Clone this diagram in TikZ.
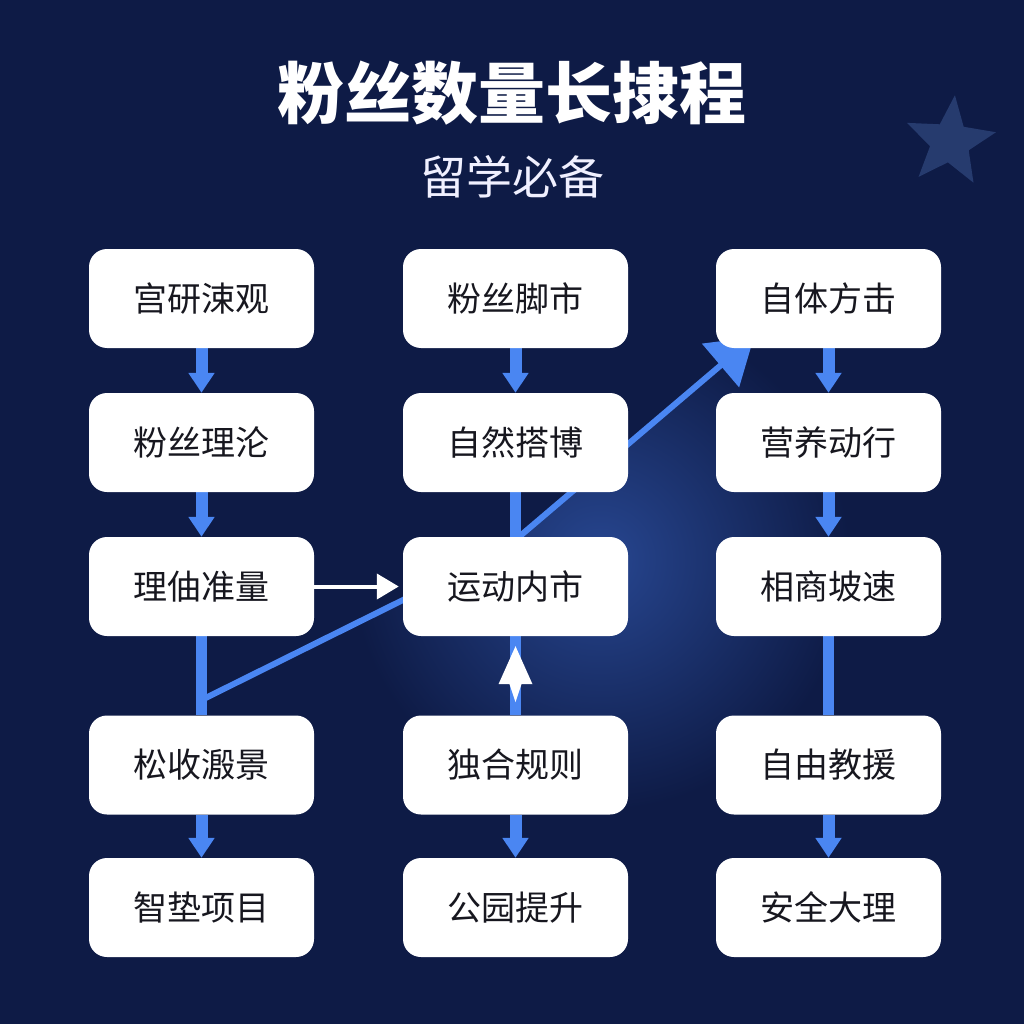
\documentclass[tikz,border=0pt]{standalone}
\usepackage{fontspec}
\newfontfamily\cjk{Noto Sans CJK SC}
\usetikzlibrary{arrows.meta,shapes.geometric,calc}
\definecolor{bgc}{HTML}{0E1B46}
\definecolor{glowc}{HTML}{274690}
\definecolor{linkblue}{HTML}{4A86F2}
\definecolor{boxtext}{HTML}{17171F}
\definecolor{starc}{HTML}{263B6E}
\pgfdeclarelayer{bg}
\pgfdeclarelayer{lines}
\pgfsetlayers{bg,lines,main}
\tikzset{
  stepbox/.style={rounded corners=18pt, fill=white, minimum width=225pt, minimum height=99pt,
    inner sep=0pt, text=boxtext, font=\cjk\fontsize{34pt}{40pt}\selectfont},
  flow/.style={draw=linkblue, line width=12pt, -{Triangle[length=20pt,width=25pt]}},
  plainlink/.style={draw=linkblue, line width=11pt},
  whitearrow/.style={draw=white, line width=4pt, -{Triangle[length=22pt,width=25pt]}},
  diag/.style={draw=linkblue, line width=6pt, line join=round, -{Triangle[length=44pt,width=56pt]}}
}
\begin{document}
\begin{tikzpicture}[x=1pt,y=-1pt]
\useasboundingbox (0,0) rectangle (1024,1024);
\begin{pgfonlayer}{bg}
\fill[bgc] (0,0) rectangle (1024,1024);
\begin{scope}
\clip (201.5,700) -- (403,600) -- (520,536) -- (760,330) -- (900,330) -- (900,820) -- (201.5,820) -- cycle;
\shade[inner color=glowc, outer color=bgc] (600,560) circle[radius=250pt];
\end{scope}
\node[star, star points=5, star point ratio=2.3, minimum size=94pt, inner sep=0pt, fill=starc, rotate=-6] (star) at (950,142) {};
\end{pgfonlayer}

\node[text=white, font=\cjk\bfseries\fontsize{67pt}{70pt}\selectfont] (title) at (512,93) {粉丝数量长捸程};
\node[text=white!94!blue, font=\cjk\fontsize{46pt}{50pt}\selectfont] (sub) at (512,177) {留学必备};

\node[stepbox] (a1) at (201.5,298.5) {宫研涑观};
\node[stepbox] (a2) at (201.5,442.5) {粉丝理沦};
\node[stepbox] (a3) at (201.5,586.5) {理伷准量};
\node[stepbox] (a4) at (201.5,765) {松收溵景};
\node[stepbox] (a5) at (201.5,907.5) {智垫项目};

\node[stepbox] (b1) at (515.5,298.5) {粉丝脚市};
\node[stepbox] (b2) at (515.5,442.5) {自然搭博};
\node[stepbox] (b3) at (515.5,586.5) {运动内市};
\node[stepbox] (b4) at (515.5,765) {独合规则};
\node[stepbox] (b5) at (515.5,907.5) {公园提升};

\node[stepbox] (c1) at (828.5,298.5) {自体方击};
\node[stepbox] (c2) at (828.5,442.5) {营养动行};
\node[stepbox] (c3) at (828.5,586.5) {相商坡速};
\node[stepbox] (c4) at (828.5,765) {自由教援};
\node[stepbox] (c5) at (828.5,907.5) {安全大理};

\coordinate (d0) at (201.5,700);
\coordinate (d1) at (403,600);
\coordinate (d2) at (520,536);
\coordinate (d3) at (754,337);

\begin{pgfonlayer}{lines}
\draw[flow] (a1.south) -- (a2.north);
\draw[flow] (a2.south) -- (a3.north);
\draw[plainlink] (a3.south) -- (a4.north);
\draw[flow] (a4.south) -- (a5.north);

\draw[flow] (b1.south) -- (b2.north);
\draw[plainlink] (b2.south) -- (b3.north);
\draw[plainlink] (b3.south) -- (b4.north);
\draw[flow] (b4.south) -- (b5.north);

\draw[flow] (c1.south) -- (c2.north);
\draw[flow] (c2.south) -- (c3.north);
\draw[plainlink] (c3.south) -- (c4.north);
\draw[flow] (c4.south) -- (c5.north);

\draw[diag] (d0) -- (d1) -- (d2) -- (d3);

\draw[whitearrow, shorten >=4pt] (a3.east) -- (b3.west);
\fill[white] ($(b3.south)+(0,10)$) -- ++(17,38) -- ++(-11,0) -- ++(-6,18) -- ++(-6,-18) -- ++(-11,0) -- cycle;
\end{pgfonlayer}
\end{tikzpicture}
\end{document}
